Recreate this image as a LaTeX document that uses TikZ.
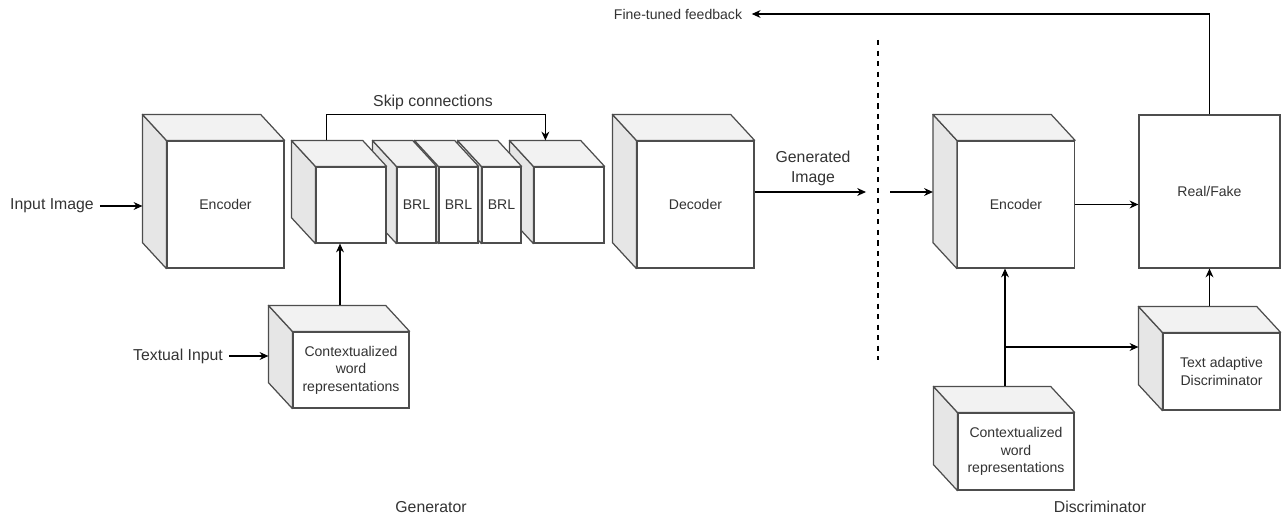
\documentclass[tikz,border=0pt]{standalone}
\usepackage{fontspec}
\setmainfont{Liberation Sans}
\usetikzlibrary{arrows.meta}
\definecolor{edgegray}{HTML}{4D4D4D}
\definecolor{sidegray}{HTML}{E6E6E6}
\definecolor{topgray}{HTML}{F2F2F2}
\definecolor{txtgray}{HTML}{333333}
\tikzset{
  front/.style={draw=edgegray, fill=white, line width=0.7pt, text=txtgray, align=center,
    font=\fontsize{8}{10}\selectfont, inner sep=0pt},
  side/.style={draw=edgegray, fill=sidegray, line width=0.7pt, line join=round},
  lid/.style={draw=edgegray, fill=topgray, line width=0.7pt, line join=round},
  lbl/.style={text=txtgray, font=\fontsize{8}{10}\selectfont, align=center},
  biglbl/.style={text=txtgray, font=\fontsize{9}{11.3}\selectfont, align=center},
  arr/.style={-{Stealth[length=5pt,width=4.5pt]}, line width=0.6pt},
}
% left and top faces of a box, behind its front node
\newcommand{\cubeback}[1]{%
  \coordinate (#1-b) at ([shift={(-24,-26)}]#1.north west);
  \filldraw[side] (#1.north west) -- (#1-b) -- ([shift={(-24,-26)}]#1.south west) -- (#1.south west) -- cycle;
  \filldraw[lid] (#1.north west) -- (#1-b) -- ([shift={(-24,-26)}]#1.north east) -- (#1.north east) -- cycle;
}
\begin{document}
\begin{tikzpicture}[x=0.02cm, y=-0.02cm]
  \useasboundingbox (0,0) rectangle (1282,517);
  % generator
  \node[front, minimum width=2.34cm, minimum height=2.54cm] (genenc) at (225.5,204.5) {Encoder};
  \cubeback{genenc}
  % residual stack, drawn from the right so each box sits in front of the next
  \node[front, minimum width=1.4cm, minimum height=1.52cm] (blk5) at (569,205) {};
  \cubeback{blk5}
  \node[front, minimum width=0.78cm, minimum height=1.52cm] (brl3) at (501.5,205) {BRL};
  \cubeback{brl3}
  \node[front, minimum width=0.78cm, minimum height=1.52cm] (brl2) at (458.5,205) {BRL};
  \cubeback{brl2}
  \node[front, minimum width=0.78cm, minimum height=1.52cm] (brl1) at (416.5,205) {BRL};
  \cubeback{brl1}
  \node[front, minimum width=1.4cm, minimum height=1.52cm] (blk1) at (351,205) {};
  \cubeback{blk1}
  \node[front, minimum width=2.34cm, minimum height=2.54cm] (dec) at (695.5,204.5) {Decoder};
  \cubeback{dec}
  \node[front, minimum width=2.32cm, minimum height=1.52cm] (genctx) at (351,370) {Contextualized\\word\\representations};
  \cubeback{genctx}

  \node[biglbl] (inimg) at (52,206) {Input Image};
  \node[biglbl] (txtin) at (178,356) {Textual Input};
  \node[biglbl] (skiplbl) at (433,102) {Skip connections};
  \node[biglbl] (genlbl) at (813,168) {Generated\\Image};
  \node[biglbl] (gen) at (431,507) {Generator};

  \draw[arr] (inimg.east) -- (inimg.east -| genenc-b);
  \draw[arr] (txtin.east) -- (txtin.east -| genctx-b);
  \draw[arr] ([xshift=-0.22cm]blk1.south |- genctx-b) -- ([xshift=-0.22cm]blk1.south);
  \draw[arr] ([xshift=0.7cm]blk1-b) -- ++(0,-26) -| ([xshift=0.72cm]blk5-b);
  \coordinate (genout) at (866,192);
  \draw[arr] (dec.east |- genout) -- (genout);

  % split
  \coordinate (cuttop) at (878,40);
  \coordinate (cutbot) at (878,360);
  \draw[dashed, line width=0.6pt] (cuttop) -- (cutbot);

  % discriminator
  \node[front, minimum width=2.34cm, minimum height=2.54cm] (denc) at (1016,204.5) {Encoder};
  \cubeback{denc}
  \node[front, minimum width=2.82cm, minimum height=3.06cm] (rf) at (1209.5,191.5) {Real/Fake};
  \node[front, minimum width=2.34cm, minimum height=1.54cm] (tad) at (1221.5,371.5) {Text adaptive\\Discriminator};
  \cubeback{tad}
  \node[front, minimum width=2.32cm, minimum height=1.54cm] (dctx) at (1016,451.5) {Contextualized\\word\\representations};
  \cubeback{dctx}

  \node[lbl] (fb) at (678,14) {Fine-tuned feedback};
  \node[biglbl] (dis) at (1100,507) {Discriminator};

  \coordinate (disin) at (890,192);
  \draw[arr] (disin) -- (disin -| denc-b);
  \draw[arr] (denc.east) -- (denc.east -| rf.west);
  \draw[arr] ([xshift=-0.22cm]denc.south |- dctx-b) -- ([xshift=-0.22cm]denc.south);
  \coordinate (branch) at ([xshift=-0.22cm]denc.south |- 0,347);
  \draw[arr] (branch) -- (branch -| tad-b);
  \draw[arr] (rf.south |- tad-b) -- (rf.south);
  \draw[arr] (rf.north) |- ([xshift=2]fb.east);
\end{tikzpicture}
\end{document}
